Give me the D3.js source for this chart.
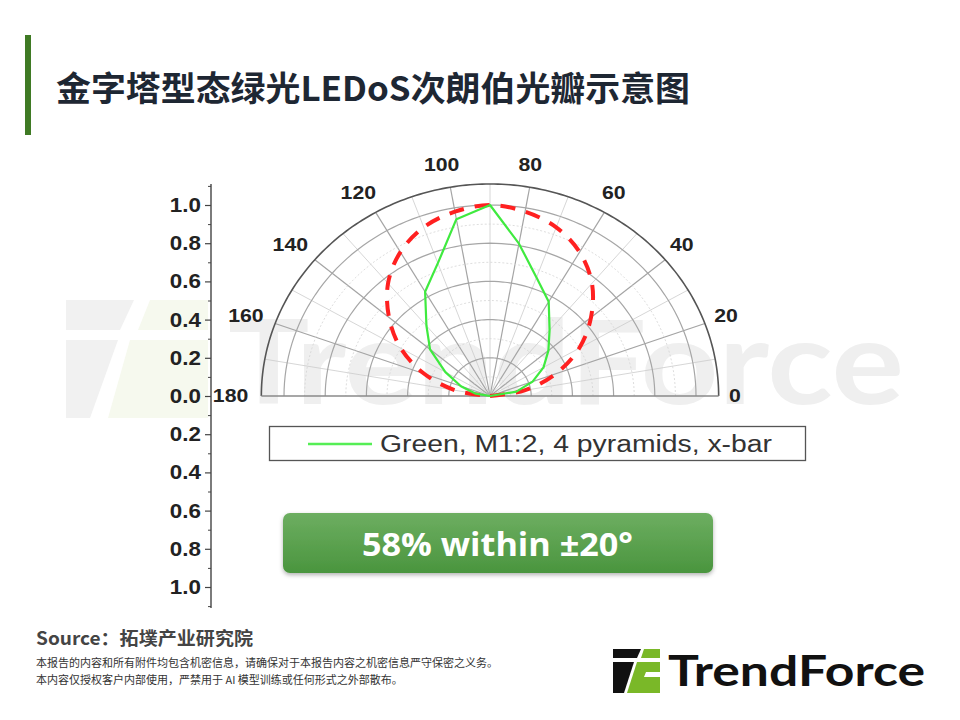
<!DOCTYPE html>
<html><head><meta charset="utf-8">
<script src="https://cdn.jsdelivr.net/npm/d3@7"></script>
<style>
html,body{margin:0;padding:0;background:#fff;}
svg{display:block;}
</style></head>
<body>
<svg id="c" width="960" height="720"></svg>
<script>
// ---- data ----
const titleText = "金字塔型态绿光LEDoS次朗伯光瓣示意图";
const angleTicks = [0, 20, 40, 60, 80, 100, 120, 140, 160, 180];
const ringValues = [0.2, 0.4, 0.6, 0.8, 1.0];
const yTickValues = [-1.0, -0.8, -0.6, -0.4, -0.2, 0.0, 0.2, 0.4, 0.6, 0.8, 1.0];
const greenAngles = [0, 10, 20, 30, 40, 50, 60, 70, 80, 90, 100, 110, 120, 130, 140, 150, 160, 170, 180];
const greenValues = [0, 0.13, 0.22, 0.30, 0.37, 0.45, 0.57, 0.66, 0.81, 1.0, 0.94, 0.74, 0.63, 0.48, 0.38, 0.25, 0.15, 0.07, 0];
const lambertAngles = [0, 10, 20, 30, 40, 50, 60, 70, 80, 90, 100, 110, 120, 130, 140, 150, 160, 170, 180];
const lambertValues = [0, 0.17, 0.34, 0.50, 0.64, 0.77, 0.87, 0.94, 0.98, 1.0, 0.98, 0.94, 0.87, 0.77, 0.64, 0.50, 0.34, 0.17, 0];
const legendLabel = "Green, M1:2, 4 pyramids, x-bar";
const calloutText = "58% within ±20°";
const sourceText = "Source：拓墣产业研究院";
const disclaimer = ["本报告的内容和所有附件均包含机密信息，请确保对于本报告内容之机密信息严守保密之义务。",
                    "本内容仅授权客户内部使用，严禁用于 AI 模型训练或任何形式之外部散布。"];

const svg = d3.select("#c");
const cx = 490, cy = 396;
const rMax = 1.11;
const rx = d3.scaleLinear().domain([0, 1]).range([0, 206]);
const ry = d3.scaleLinear().domain([0, 1]).range([0, 191]);
const ang = d3.scaleLinear().domain([0, 180]).range([0, Math.PI]);
const px = (a, r) => cx + rx(r) * Math.cos(ang(a));
const py = (a, r) => cy - ry(r) * Math.sin(ang(a));
const ARIAL = "'Liberation Sans', Arial, sans-serif";

// ---- watermark ----
const wm = svg.append("g");
wm.append("path").attr("d", "M66,300 h68 l-14,30 h-54 z").attr("fill", "#f1f1f1");
wm.append("path").attr("d", "M66,340 h52 l-28,78 h-24 z").attr("fill", "#f1f1f1");
wm.append("path").attr("d", "M150,300 h58 v30 h-70 z").attr("fill", "#f6f9ee");
wm.append("path").attr("d", "M130,340 h78 v78 h-100 z").attr("fill", "#f6f9ee");
wm.append("text").attr("x", 228).attr("y", 404).attr("font-family", "Lato, 'Open Sans', sans-serif")
  .attr("font-weight", 700).attr("font-size", 116).attr("fill", "#efefef")
  .attr("textLength", 676).attr("lengthAdjust", "spacingAndGlyphs").text("TrendForce");

// ---- title ----
svg.append("rect").attr("x", 25).attr("y", 35).attr("width", 6).attr("height", 100).attr("fill", "#3f7a24");
svg.append("text").attr("x", 56).attr("y", 101).attr("font-family", "'Noto Sans CJK SC', sans-serif")
  .attr("font-weight", 700).attr("font-size", 34).attr("fill", "#1e2733")
  .attr("textLength", 634).attr("lengthAdjust", "spacingAndGlyphs").text(titleText);

// ---- polar grid ----
const grid = svg.append("g");
d3.range(10, 180, 10).forEach(a => {
  const major = a % 20 === 0;
  grid.append("line").attr("x1", cx).attr("y1", cy).attr("x2", px(a, rMax)).attr("y2", py(a, rMax))
    .attr("stroke", major ? "#a4a4a4" : "#cbcbcb").attr("stroke-width", major ? 1.2 : 0.8);
});
d3.range(0.1, 1.1, 0.2).forEach(v => {
  const pts = d3.range(0, 181, 2).map(a => [px(a, v), py(a, v)]);
  grid.append("path").attr("d", d3.line()(pts)).attr("fill", "none").attr("stroke", "#d4d4d4")
    .attr("stroke-width", 0.8).attr("stroke-dasharray", "2,2");
});
ringValues.forEach(v => {
  const pts = d3.range(0, 181, 2).map(a => [px(a, v), py(a, v)]);
  grid.append("path").attr("d", d3.line()(pts)).attr("fill", "none").attr("stroke", "#a6a6a6").attr("stroke-width", 1.2);
});
grid.append("path").attr("d", d3.line()(d3.range(0, 181, 1).map(a => [px(a, rMax), py(a, rMax)])))
  .attr("fill", "none").attr("stroke", "#555").attr("stroke-width", 1.6);
grid.append("line").attr("x1", px(180, rMax)).attr("x2", px(0, rMax)).attr("y1", cy).attr("y2", cy)
  .attr("stroke", "#8a8a8a").attr("stroke-width", 1.5);

// angle labels (stretched horizontally like the source image)
angleTicks.forEach(a => {
  let x = cx - 4 + rx(1.24) * Math.cos(ang(a)), y = py(a, 1.23);
  if (a === 0) x = 735;
  svg.append("g").attr("transform", `translate(${x},${y}) scale(1.18,1)`)
    .append("text").attr("text-anchor", "middle").attr("dominant-baseline", "central")
    .attr("font-family", ARIAL).attr("font-weight", 700).attr("font-size", 18)
    .attr("fill", "#222").text(a);
});

// ---- data curves ----
const lineGen = d3.line().x(d => px(d[0], d[1])).y(d => py(d[0], d[1]));
svg.append("path").datum(lambertAngles.map((a, i) => [a, lambertValues[i]])).attr("d", lineGen.curve(d3.curveCardinal))
  .attr("fill", "none").attr("stroke", "#ff2020").attr("stroke-width", 4).attr("stroke-dasharray", "15,11");
svg.append("path").datum(greenAngles.map((a, i) => [a, greenValues[i]])).attr("d", d3.line().x(d => px(d[0], d[1])).y(d => py(d[0], d[1])))
  .attr("fill", "none").attr("stroke", "#3fea3f").attr("stroke-width", 2.2).attr("stroke-linejoin", "round");

// ---- left axis ----
const yScale = d3.scaleLinear().domain([-1.1, 1.1]).range([cy + 1.1 * 191, cy - 1.1 * 191]);
const axisG = svg.append("g").attr("transform", "translate(211,0)");
axisG.append("line").attr("x1", 0).attr("x2", 0).attr("y1", yScale(1.11)).attr("y2", yScale(-1.11)).attr("stroke", "#444").attr("stroke-width", 1.4);
const yAxis = d3.axisLeft(yScale).tickValues(yTickValues).tickSize(6).tickPadding(3)
  .tickFormat(v => Math.abs(v).toFixed(1));
const ag = axisG.append("g").call(yAxis);
ag.select(".domain").remove();
ag.selectAll(".tick line").attr("stroke", "#444").attr("stroke-width", 1.2);
ag.selectAll(".tick text").attr("font-family", ARIAL).attr("font-weight", 700)
  .attr("font-size", 20).attr("fill", "#222").attr("transform", "scale(1.12,1)");
const minor = d3.axisLeft(yScale).tickValues(d3.range(-11, 12, 2).map(v => v / 10)).tickSize(3).tickFormat("");
const mg = axisG.append("g").call(minor);
mg.select(".domain").remove();
mg.selectAll(".tick line").attr("stroke", "#444");

// ---- legend ----
svg.append("rect").attr("x", 269.5).attr("y", 426.5).attr("width", 536).attr("height", 34)
  .attr("fill", "#fff").attr("stroke", "#555").attr("stroke-width", 1.3);
svg.append("line").attr("x1", 308).attr("x2", 372).attr("y1", 444).attr("y2", 444).attr("stroke", "#55ee55").attr("stroke-width", 2.5);
svg.append("text").attr("x", 380).attr("y", 452).attr("font-family", ARIAL)
  .attr("font-size", 23).attr("fill", "#333").attr("textLength", 392).attr("lengthAdjust", "spacingAndGlyphs").text(legendLabel);

// ---- callout ----
const defs = svg.append("defs");
const gr = defs.append("linearGradient").attr("id", "btn").attr("x1", 0).attr("y1", 0).attr("x2", 0).attr("y2", 1);
gr.append("stop").attr("offset", "0%").attr("stop-color", "#6dae61");
gr.append("stop").attr("offset", "100%").attr("stop-color", "#4a953e");
const f = defs.append("filter").attr("id", "sh").attr("x", "-10%").attr("y", "-20%").attr("width", "120%").attr("height", "150%");
f.append("feDropShadow").attr("dx", 0).attr("dy", 2).attr("stdDeviation", 2).attr("flood-color", "#000").attr("flood-opacity", 0.3);
svg.append("rect").attr("x", 283).attr("y", 513).attr("width", 430).attr("height", 60).attr("rx", 7)
  .attr("fill", "url(#btn)").attr("filter", "url(#sh)");
svg.append("text").attr("x", 362).attr("y", 556).attr("font-family", "'Open Sans', 'Noto Sans', sans-serif")
  .attr("font-weight", 700).attr("font-size", 32).attr("fill", "#fff")
  .attr("textLength", 271).attr("lengthAdjust", "spacingAndGlyphs").text(calloutText);

// ---- footer ----
svg.append("text").attr("x", 36).attr("y", 645).attr("font-family", "'Noto Sans CJK SC', sans-serif")
  .attr("font-weight", 700).attr("font-size", 18).attr("fill", "#444")
  .attr("textLength", 217).attr("lengthAdjust", "spacingAndGlyphs").text(sourceText);
disclaimer.forEach((t, i) => svg.append("text").attr("x", 36).attr("y", 667 + i * 17)
  .attr("font-family", "'Noto Sans CJK SC', sans-serif").attr("font-size", 11).attr("fill", "#333").text(t));

// ---- logo ----
const lg = svg.append("g");
lg.append("path").attr("d", "M613,649 h28 l-4,9 h-24 z").attr("fill", "#111");
lg.append("path").attr("d", "M613,662 h21 l-10,31 h-11 z").attr("fill", "#111");
lg.append("path").attr("d", "M644,649 h16 v9 h-19 z").attr("fill", "#7ab828");
lg.append("path").attr("d", "M637,662 h23 v31 h-33 z").attr("fill", "#7ab828");
lg.append("path").attr("d", "M646,672 h14 v5 h-16 z").attr("fill", "#fff");
lg.append("text").attr("x", 668).attr("y", 686).attr("font-family", "Lato, 'Open Sans', sans-serif")
  .attr("font-weight", 700).attr("font-size", 42).attr("fill", "#111")
  .attr("textLength", 257).attr("lengthAdjust", "spacingAndGlyphs").text("TrendForce");
</script>
</body></html>
